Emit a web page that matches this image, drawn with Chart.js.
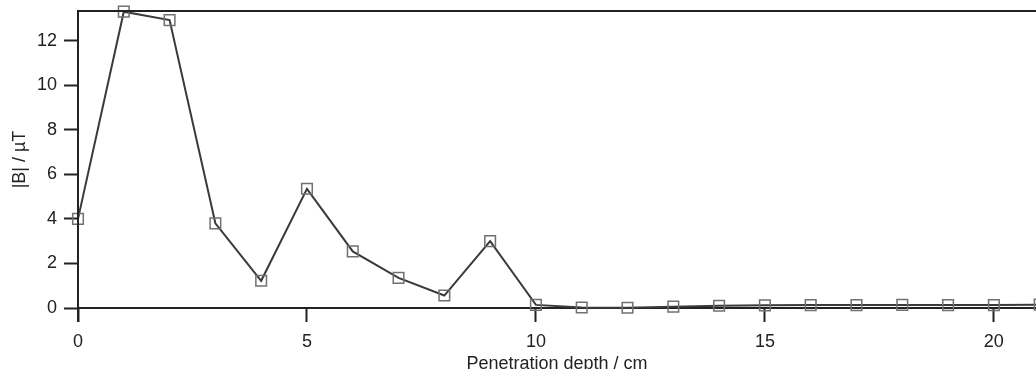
<!DOCTYPE html>
<html><head><meta charset="utf-8">
<script src="https://cdn.jsdelivr.net/npm/chart.js@4/dist/chart.umd.min.js"></script>
<style>html,body{margin:0;padding:0;background:#fff;overflow:hidden;}#wrap{width:1036px;height:369px;position:relative;}canvas{display:block;}</style>
</head><body><div id="wrap"><canvas id="c"></canvas></div>
<script>
const depths = [0,1,2,3,4,5,6,7,8,9,10,11,12,13,14,15,16,17,18,19,20,21];
const fieldB = [4.0,13.3,12.92,3.8,1.22,5.35,2.54,1.35,0.56,3.0,0.14,0.02,0.01,0.06,0.1,0.12,0.13,0.13,0.14,0.13,0.13,0.15];
const xTicks = [0,5,10,15,20];
const yTicks = [0,2,4,6,8,10,12];
const xTitle = 'Penetration depth / cm';
const yTitle = '|B| / µT';

const FONT = {family:'"Liberation Sans", Arial, sans-serif', size:18};
const frame = {
  id:'frame',
  afterDraw(chart){
    const a = chart.chartArea, ctx = chart.ctx;
    ctx.save();
    ctx.strokeStyle = '#222'; ctx.lineWidth = 2;
    ctx.beginPath();
    ctx.moveTo(a.left, a.top); ctx.lineTo(chart.width, a.top);
    ctx.moveTo(a.left, a.top); ctx.lineTo(a.left, a.bottom + 14);
    ctx.stroke();
    ctx.restore();
  }
};
new Chart(document.getElementById('c'), {
  type:'line',
  data:{datasets:[{
    data: depths.map((d,i)=>({x:d, y:fieldB[i]})),
    borderColor:'#3a3a3a', borderWidth:2,
    pointStyle:'rect', pointRadius:7.5, pointBorderColor:'#707070', pointBorderWidth:1.5,
    pointBackgroundColor:'rgba(255,255,255,0)', tension:0, clip:false
  }]},
  options:{
    responsive:true, maintainAspectRatio:false, animation:false,
    layout:{autoPadding:false, padding:{top:11,right:0,left:0,bottom:-6}},
    plugins:{legend:{display:false}, tooltip:{enabled:false}},
    scales:{
      x:{type:'linear', min:0, max:20.92,
        afterBuildTicks(s){ s.ticks = xTicks.map(v=>({value:v})); },
        afterFit(s){ s.height = 67; s.paddingLeft = 0; s.paddingRight = 0; },
        grid:{drawOnChartArea:false, drawTicks:true, tickLength:14, tickWidth:2, tickColor:'#222'},
        border:{display:true, color:'#222', width:2},
        ticks:{font:FONT, color:'#222', padding:9, maxRotation:0},
        title:{display:true, text:xTitle, font:FONT, color:'#222', padding:{top:0,bottom:0}}
      },
      y:{type:'linear', min:0, max:13.33,
        afterBuildTicks(s){ s.ticks = yTicks.map(v=>({value:v})); },
        afterFit(s){ s.width = 78; s.paddingTop = 0; s.paddingBottom = 0; },
        grid:{drawOnChartArea:false, drawTicks:true, tickLength:14, tickWidth:2, tickColor:'#222'},
        border:{display:true, color:'#222', width:2},
        ticks:{font:FONT, color:'#222', padding:7},
        title:{display:true, text:yTitle, font:FONT, color:'#222', padding:{top:9,bottom:0}}
      }
    }
  },
  plugins:[frame]
});
</script></body></html>
